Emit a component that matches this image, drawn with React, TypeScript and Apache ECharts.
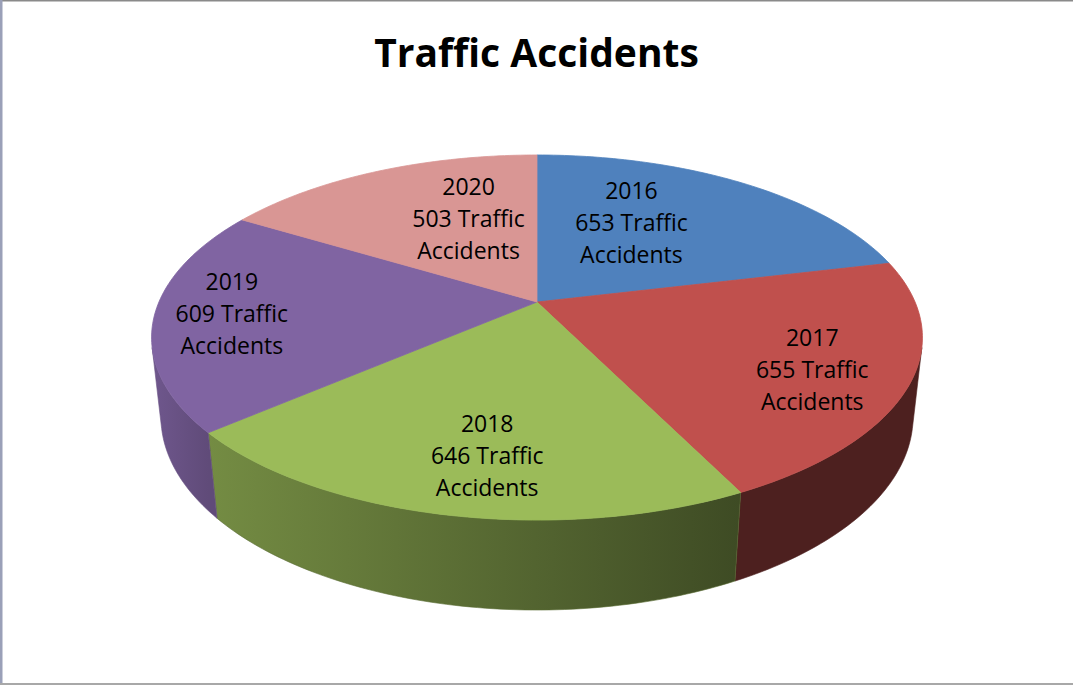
import React, { useEffect, useRef } from "react";
import * as echarts from "echarts";

// ---- data ----
const YEARS = ["2016", "2017", "2018", "2019", "2020"];
const ACCIDENTS = [653, 655, 646, 609, 503];
const TITLE = "Traffic Accidents";

// ---- styles / layout ----
const TOP_COLORS = ["#4F81BD", "#C0504D", "#9BBB59", "#8064A2", "#D99694"];
// label placement in pie-plane polar coords: angle shift from slice middle (deg), radius fraction
const LABEL_SHIFT = [-9.6, 2.5, -2.9, 0.5, 8.8];
const LABEL_R = [0.57, 0.765, 0.753, 0.8, 0.564];

// 3D projection parameters
const CX = 537;
const CY = 302;
const K = 1734;
const KX = K * 0.994;
const ALPHA = (27.5 * Math.PI) / 180;
const SA = Math.sin(ALPHA);
const CA = Math.cos(ALPHA);
const DIST = 4.559;
const THICK = 0.2367;

function proj(x: number, z: number, h: number): number[] {
  const up = h * CA - z * SA;
  const toward = h * SA + z * CA;
  const d = DIST - toward;
  return [CX + (KX * x) / d, CY - (K * up) / d];
}
function projA(deg: number, r: number, h: number): number[] {
  const a = (deg * Math.PI) / 180;
  return proj(r * Math.sin(a), -r * Math.cos(a), h);
}
// visible outer-wall range
const VIS_LIM = (Math.acos(-1 / (DIST * CA)) * 180) / Math.PI;
const VIS_A = VIS_LIM;
const VIS_B = 360 - VIS_LIM;

function shade(deg: number): number {
  const t = Math.max(0, Math.min(1, (deg - 155) / 100));
  return 0.4 + 0.47 * t;
}
function shadeColor(hex: string, f: number): string {
  const n = parseInt(hex.slice(1), 16);
  const r = Math.round(((n >> 16) & 255) * f);
  const g = Math.round(((n >> 8) & 255) * f);
  const b = Math.round((n & 255) * f);
  return `rgb(${r},${g},${b})`;
}

export default function App() {
  const ref = useRef<HTMLDivElement>(null);
  useEffect(() => {
    document.body.style.margin = "0";
    if (!ref.current) return;
    const chart = echarts.init(ref.current, undefined, { renderer: "svg" });
    const total = ACCIDENTS.reduce((a, b) => a + b, 0);
    const cum: number[] = [];
    ACCIDENTS.reduce((acc, v, i) => {
      cum[i] = acc;
      return acc + v;
    }, 0);

    const renderItem = (params: any, api: any) => {
      const i = params.dataIndex;
      const v = api.value(1);
      const start = (cum[i] / total) * 360;
      const end = start + (v / total) * 360;
      const base = TOP_COLORS[i];
      const children: any[] = [];

      // top face
      const pts: number[][] = [proj(0, 0, 0)];
      const n = Math.max(2, Math.ceil(end - start));
      for (let j = 0; j <= n; j++) {
        pts.push(projA(start + ((end - start) * j) / n, 1, 0));
      }
      children.push({
        type: "polygon",
        z2: 10,
        shape: { points: pts },
        style: { fill: base, stroke: base, lineWidth: 0.8, lineJoin: "round" },
      });

      // visible outer wall
      const a0 = Math.max(start, VIS_A);
      const a1 = Math.min(end, VIS_B);
      if (a1 > a0) {
        const m = Math.max(2, Math.ceil(a1 - a0));
        const topRim: number[][] = [];
        const botRim: number[][] = [];
        for (let j = 0; j <= m; j++) {
          const a = a0 + ((a1 - a0) * j) / m;
          topRim.push(projA(a, 1, 0));
          botRim.push(projA(a, 1, -THICK));
        }
        const wall = topRim.concat(botRim.reverse());
        const xRight = projA(a0, 1, 0)[0];
        const xLeft = projA(a1, 1, 0)[0];
        children.push({
          type: "polygon",
          z2: 1,
          shape: { points: wall },
          style: {
            fill: {
              type: "linear",
              x: xLeft,
              y: 0,
              x2: xRight,
              y2: 0,
              global: true,
              colorStops: [
                { offset: 0, color: shadeColor(base, shade(a1)) },
                { offset: 1, color: shadeColor(base, shade(a0)) },
              ],
            },
            stroke: shadeColor(base, shade((a0 + a1) / 2)),
            lineWidth: 0.6,
          },
        });
      }

      // label
      const mid = (start + end) / 2 + LABEL_SHIFT[i];
      const lp = projA(mid, LABEL_R[i], 0);
      children.push({
        type: "text",
        z2: 20,
        x: lp[0],
        y: lp[1],
        style: {
          text: `${YEARS[i]}\n${v} Traffic\nAccidents`,
          fill: "#000",
          fontFamily: "Open Sans",
          fontSize: 23,
          lineHeight: 32,
          align: "center",
          verticalAlign: "middle",
          textAlign: "center",
          textVerticalAlign: "middle",
        },
      });
      return { type: "group", children };
    };

    chart.setOption({
      animation: false,
      backgroundColor: "#ffffff",
      title: {
        text: TITLE,
        left: "center",
        top: 27,
        textStyle: {
          fontFamily: "Open Sans",
          fontWeight: "bold",
          fontSize: 39,
          color: "#000",
        },
      },
      graphic: [
        { type: "rect", shape: { x: 0, y: 0, width: 1073, height: 1.5 }, style: { fill: "#8a8a8a" } },
        { type: "rect", shape: { x: 0, y: 0, width: 2.5, height: 685 }, style: { fill: "#9aa0b8" } },
        { type: "rect", shape: { x: 0, y: 683, width: 1073, height: 2 }, style: { fill: "#a8a8a8" } },
      ],
      series: [
        {
          type: "custom",
          coordinateSystem: "none",
          renderItem,
          data: ACCIDENTS.map((v, i) => ({ name: YEARS[i], value: [i, v] })),
        },
      ],
    });
    return () => chart.dispose();
  }, []);
  return <div ref={ref} style={{ width: 1073, height: 685 }} />;
}
